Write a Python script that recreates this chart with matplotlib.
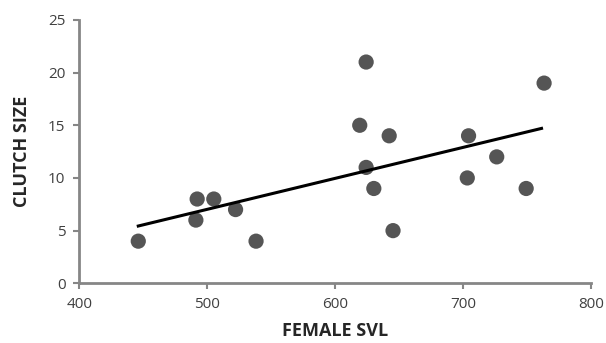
import numpy as np
import matplotlib
matplotlib.use("Agg")
import matplotlib.pyplot as plt

# 雌性体长 与 窝卵数
svl = [446, 491, 492, 505, 522, 538, 619, 624, 624, 630, 642, 645, 703, 704, 726, 749, 763]
clutch = [4, 6, 8, 8, 7, 4, 15, 21, 11, 9, 14, 5, 10, 14, 12, 9, 19]
x_ticks = [400, 500, 600, 700, 800]
y_ticks = [0, 5, 10, 15, 20, 25]

plt.rcParams['font.family'] = ['Open Sans', 'DejaVu Sans']

fig = plt.figure(figsize=(6.06, 3.43), dpi=100)
ax = fig.add_axes([0.131, 0.174, 0.845, 0.768])

ax.scatter(svl, clutch, s=120, color='#555555', edgecolors='none', zorder=3)

# 线性趋势线
k, b = np.polyfit(svl, clutch, 1)
xs = np.array([min(svl), max(svl) - 2])
ax.plot(xs, k * xs + b, color='black', lw=2.2, zorder=4)

ax.set_xlim(400, 800)
ax.set_ylim(0, 25)
ax.set_xticks(x_ticks)
ax.set_yticks(y_ticks)
for s in ['top', 'right']:
    ax.spines[s].set_visible(False)
for s in ['left', 'bottom']:
    ax.spines[s].set_color('#868686')
    ax.spines[s].set_linewidth(2)
ax.tick_params(length=4, width=1.5, color='#868686', labelcolor='#404040',
               labelsize=11, pad=6)

ax.set_xlabel('FEMALE SVL', fontsize=13, fontweight='bold', color='#262626', labelpad=7)
ax.set_ylabel('CLUTCH SIZE', fontsize=13, fontweight='bold', color='#262626', labelpad=12)

fig.savefig('out.png', dpi=100)
